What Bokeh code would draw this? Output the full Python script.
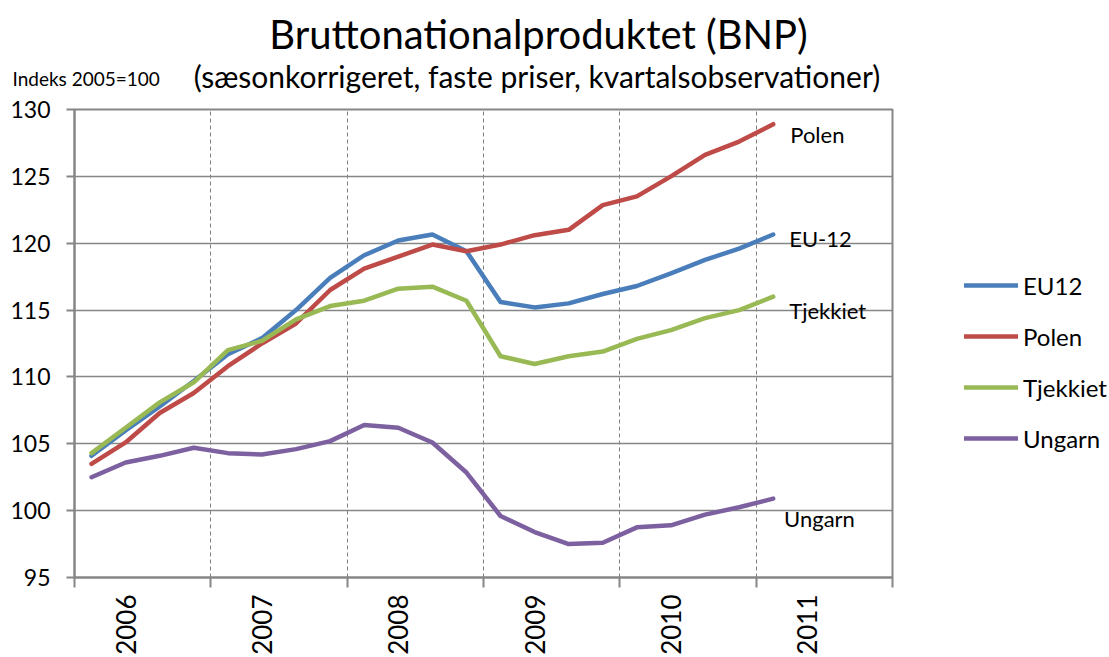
import math
from bokeh.plotting import figure
from bokeh.layouts import column, row
from bokeh.models import FixedTicker, Label, Legend, LegendItem, Range1d
from bokeh.embed import file_html
from bokeh.resources import INLINE

# ---- data (index 2005=100, quarterly) ----
quarters = ["2006K1", "2006K2", "2006K3", "2006K4",
            "2007K1", "2007K2", "2007K3", "2007K4",
            "2008K1", "2008K2", "2008K3", "2008K4",
            "2009K1", "2009K2", "2009K3", "2009K4",
            "2010K1", "2010K2", "2010K3", "2010K4",
            "2011K1"]
years = ["2006", "2007", "2008", "2009", "2010", "2011"]
eu12 = [104.1, 106.0, 107.8, 109.7, 111.7, 112.9, 115.0, 117.4, 119.1, 120.2,
        120.65, 119.4, 115.6, 115.2, 115.5, 116.2, 116.8, 117.75, 118.75, 119.6, 120.65]
polen = [103.5, 105.1, 107.3, 108.8, 110.8, 112.5, 114.0, 116.5, 118.1, 119.0,
         119.9, 119.4, 119.9, 120.6, 121.0, 122.85, 123.5, 125.0, 126.6, 127.6, 128.9]
tjekkiet = [104.3, 106.2, 108.1, 109.6, 112.0, 112.7, 114.3, 115.3, 115.7, 116.6,
            116.75, 115.7, 111.55, 110.97, 111.55, 111.9, 112.85, 113.5, 114.4, 115.0, 116.0]
ungarn = [102.5, 103.6, 104.1, 104.7, 104.3, 104.2, 104.6, 105.2, 106.4, 106.2,
          105.1, 102.85, 99.6, 98.4, 97.5, 97.6, 98.75, 98.9, 99.7, 100.25, 100.9]
series_names = ["EU12", "Polen", "Tjekkiet", "Ungarn"]
end_labels = ["EU-12", "Polen", "Tjekkiet", "Ungarn"]
y_ticks = [95, 100, 105, 110, 115, 120, 125, 130]
title_text = "Bruttonationalproduktet (BNP)"
subtitle_text = "(sæsonkorrigeret, faste priser, kvartalsobservationer)"
unit_text = "Indeks 2005=100"

colors = ["#4A7EBB", "#BE4B48", "#98B954", "#7D60A0"]
FONT = "Lato"
GRID = "#868686"
W, H, HEAD = 1109, 657, 95
MAIN_W = 900


def blank(width, height, xr, yr):
    f = figure(width=width, height=height, x_range=xr, y_range=yr,
               x_axis_type=None, y_axis_type=None, title_location=None,
               output_backend="svg", toolbar_location=None,
               min_border=0, min_border_left=0, min_border_right=0,
               min_border_top=0, min_border_bottom=0)
    f.outline_line_color = None
    f.background_fill_color = "white"
    f.border_fill_color = "white"
    f.grid.visible = False
    return f


# ---- header: title, subtitle and unit text (y in pixels from top) ----
head = blank(W, HEAD, Range1d(0, W), Range1d(HEAD, 0))
head.add_layout(Label(x=538, y=33, text=title_text, text_font=FONT,
                      text_font_size="40px", text_color="black",
                      text_align="center", text_baseline="middle"))
head.add_layout(Label(x=536.5, y=75.5, text=subtitle_text, text_font=FONT,
                      text_font_size="30px", text_color="black",
                      text_align="center", text_baseline="middle"))
head.add_layout(Label(x=12, y=78, text=unit_text, text_font=FONT,
                      text_font_size="19px", text_color="black",
                      text_align="left", text_baseline="middle"))

# ---- main chart ----
n_slots = 4 * len(years)
xs = [i + 0.5 for i in range(len(quarters))]

p = figure(width=MAIN_W, height=H - HEAD,
           x_range=Range1d(0, n_slots), y_range=Range1d(95, 130),
           output_backend="svg", toolbar_location=None, title_location=None,
           min_border_left=74, min_border_right=8,
           min_border_top=109 - HEAD, min_border_bottom=78)
p.background_fill_color = "white"
p.border_fill_color = "white"
p.outline_line_color = GRID
p.outline_line_width = 2

year_bounds = [4 * k for k in range(len(years) + 1)]
label_pos = [4 * k + 1.5 for k in range(len(years))]
p.xaxis.ticker = FixedTicker(ticks=label_pos, minor_ticks=year_bounds)
p.xaxis.major_label_overrides = {pos: yr for pos, yr in zip(label_pos, years)}
p.xaxis.major_label_orientation = math.pi / 2
p.xaxis.major_label_text_font = FONT
p.xaxis.major_label_text_font_size = "26px"
p.xaxis.major_label_text_color = "black"
p.xaxis.major_label_standoff = 7
p.xaxis.major_tick_line_color = None
p.xaxis.major_tick_out = 10
p.xaxis.major_tick_in = 0
p.xaxis.minor_tick_line_color = GRID
p.xaxis.minor_tick_line_width = 2
p.xaxis.minor_tick_out = 10
p.xaxis.minor_tick_in = 0
p.xaxis.axis_line_color = GRID
p.xaxis.axis_line_width = 2

p.yaxis.ticker = FixedTicker(ticks=y_ticks)
p.yaxis.axis_line_color = GRID
p.yaxis.axis_line_width = 2
p.yaxis.major_tick_line_color = GRID
p.yaxis.major_tick_line_width = 2
p.yaxis.major_tick_out = 8
p.yaxis.major_tick_in = 0
p.yaxis.minor_tick_line_color = None
p.yaxis.major_label_standoff = 16
p.yaxis.major_label_text_font = FONT
p.yaxis.major_label_text_font_size = "23px"
p.yaxis.major_label_text_color = "black"

p.ygrid.ticker = FixedTicker(ticks=y_ticks)
p.ygrid.grid_line_color = GRID
p.ygrid.grid_line_width = 1.5
p.xgrid.ticker = FixedTicker(ticks=year_bounds[1:-1])
p.xgrid.grid_line_color = "#7f7f7f"
p.xgrid.grid_line_width = 1
p.xgrid.grid_line_dash = "4 3"

series = [eu12, polen, tjekkiet, ungarn]
for vals, c in zip(series, colors):
    p.line(xs, vals, line_color=c, line_width=4.5,
           line_join="round", line_cap="round")

# end-of-line labels (anchored to each series' last point)
last = len(xs) - 1
end_pos = {"EU-12": (xs[last] + 0.47, eu12[last] - 0.28),
           "Polen": (xs[last] + 0.5, polen[last] - 0.78),
           "Tjekkiet": (xs[last] + 0.47, tjekkiet[last] - 1.02),
           "Ungarn": (xs[last] + 0.32, ungarn[last] - 1.51)}
for name in end_labels:
    x, y = end_pos[name]
    p.add_layout(Label(x=x, y=y, text=name, text_font=FONT,
                       text_font_size="22px", text_color="black",
                       text_align="left", text_baseline="middle"))

# ---- legend panel on the right (its frame is aligned with the chart's) ----
leg = blank(W - MAIN_W, H - HEAD, Range1d(0, 1), Range1d(0, 1))
leg_renderers = [leg.line(xs, vals, line_color=c, line_width=4.5, line_cap="round")
                 for vals, c in zip(series, colors)]
legend = Legend(items=[LegendItem(label=n, renderers=[r])
                       for n, r in zip(series_names, leg_renderers)],
                location=(64, 124), orientation="vertical",
                glyph_width=54, glyph_height=30, label_height=30,
                spacing=21, label_standoff=5, padding=0, margin=0,
                border_line_color=None, background_fill_alpha=0,
                label_text_font=FONT, label_text_font_size="24px",
                label_text_color="black")
leg.add_layout(legend)

layout = column(head, row(p, leg, spacing=0), spacing=0)
open("out.html", "w").write(file_html(layout, INLINE))
